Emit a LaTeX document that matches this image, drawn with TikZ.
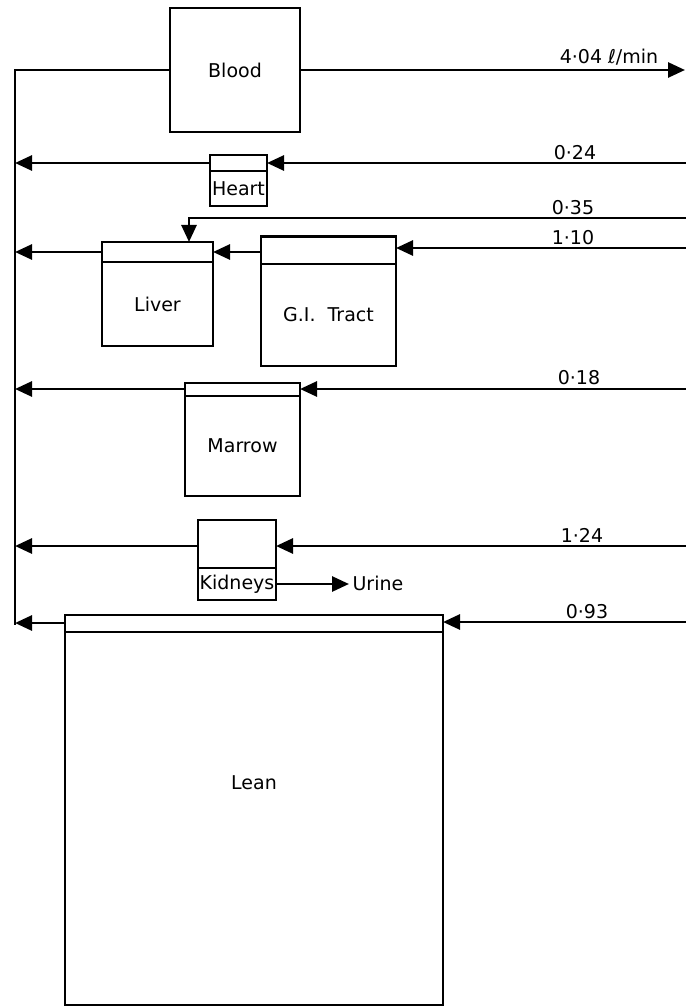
\documentclass[tikz,border=0pt]{standalone}
\usepackage{fontspec}
\setmainfont{DejaVu Sans}
\usetikzlibrary{arrows.meta,positioning}

\begin{document}
\begin{tikzpicture}[
  x=1pt,
  y=-1pt,
  line join=miter,
  organ/.style={draw,line width=2pt,inner sep=0pt,outer sep=0pt,
    font=\fontsize{19}{22}\selectfont},
  flow/.style={line width=2.8pt,-{Triangle[length=17pt,width=15pt]}},
  pipe/.style={line width=2.8pt},
  rate/.style={anchor=south,inner sep=1pt,font=\fontsize{19}{22}\selectfont}
]
  \useasboundingbox (0,0) rectangle (685,1008);

  % Compartments: a thin cap on top of each organ body.
  \node[organ,minimum width=130pt,minimum height=124pt] (blood) at (235,70) {Blood};
  \node[organ,minimum width=57pt,minimum height=16pt] (heartcap) at (238.5,163) {};
  \node[organ,minimum width=57pt,minimum height=35pt,below=0pt of heartcap] (heart) {Heart};
  \node[organ,minimum width=111pt,minimum height=20pt] (livercap) at (157.5,252) {};
  \node[organ,minimum width=111pt,minimum height=84pt,below=0pt of livercap] (liver) {Liver};
  \node[organ,minimum width=135pt,minimum height=27pt] (gicap) at (328.5,250) {};
  \node[organ,minimum width=135pt,minimum height=102pt,below=0pt of gicap] (gi) {G.I.\ \ Tract};
  \node[organ,minimum width=115pt,minimum height=13pt] (marrowcap) at (242.5,389) {};
  \node[organ,minimum width=115pt,minimum height=100pt,below=0pt of marrowcap] (marrow) {Marrow};
  \node[organ,minimum width=78pt,minimum height=48pt] (kidneycap) at (237,544) {};
  \node[organ,minimum width=78pt,minimum height=32pt,below=0pt of kidneycap] (kidneys) {Kidneys};
  \node[organ,minimum width=378pt,minimum height=17pt] (leancap) at (254,623) {};
  \node[organ,minimum width=378pt,minimum height=373pt,below=0pt of leancap] (lean) {};
  \node[font=\fontsize{19}{22}\selectfont] (leantext) at (254,783) {Lean};
  \node[font=\fontsize{19}{22}\selectfont,anchor=west] (urine) at (349,583) {Urine};

  % Return bus on the left and free ends on the right.
  \coordinate (busTop) at (15,70);
  \coordinate (busBot) at (15,625);
  \coordinate (rBlood) at (685,70);
  \coordinate (rHeart) at (686,163);
  \coordinate (rLiver) at (686,218);
  \coordinate (bend) at (189,218);
  \coordinate (rGI) at (686,248);
  \coordinate (rMarrow) at (686,389);
  \coordinate (rKidney) at (686,546);
  \coordinate (rLean) at (686,622);

  \draw[pipe] (blood.west) -- (busTop) -- (busBot);
  \draw[flow] (blood.east) -- (rBlood);

  % Arterial inflows.
  \draw[flow] (rHeart) -- (heartcap.east);
  \draw[flow] (rLiver) -- (bend) -- (bend |- livercap.north);
  \draw[flow] (rGI) -- (rGI -| gicap.east);
  \draw[flow] (gicap.west |- livercap.east) -- (livercap.east);
  \draw[flow] (rMarrow) -- (marrowcap.east);
  \draw[flow] (rKidney) -- (rKidney -| kidneycap.east);
  \draw[flow] (rLean) -- (rLean -| leancap.east);
  \draw[flow] (kidneys.east) -- (kidneys.east -| urine.west);

  % Venous returns to the bus.
  \foreach \p in {heartcap,livercap,marrowcap,leancap} {
    \draw[flow] (\p.west) -- (\p.west -| busTop);
  }
  \draw[flow] (kidneycap.west |- rKidney) -- (rKidney -| busTop);

  % Flow rates.
  \node[rate] (q404) at (609,66) {4·04 ℓ/min};
  \node[rate] (q024) at (575,161) {0·24};
  \node[rate] (q035) at (573,216) {0·35};
  \node[rate] (q110) at (573,246) {1·10};
  \node[rate] (q018) at (579,386) {0·18};
  \node[rate] (q124) at (582,544) {1·24};
  \node[rate] (q093) at (587,620) {0·93};
\end{tikzpicture}
\end{document}
